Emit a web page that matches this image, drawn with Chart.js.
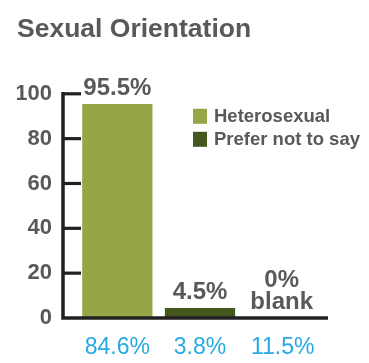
<!DOCTYPE html>
<html>
<head>
<meta charset="utf-8">
<script src="https://cdn.jsdelivr.net/npm/chart.js@4.4.1/dist/chart.umd.min.js"></script>
<style>
  html, body { margin: 0; padding: 0; background: #fff; }
  #wrap { width: 369px; height: 363px; position: relative; }
</style>
</head>
<body>
<div id="wrap"><canvas id="orientationChart"></canvas></div>
<script>
// =========================================
// SEXUAL ORIENTATION BAR CHART
// =========================================
const categories = ['Heterosexual', 'Prefer not to say', 'Blank'];
const shares = [95.5, 4.5, 0];
const valueLabels = [['95.5%'], ['4.5%'], ['0%', 'blank']];
const priorShares = ['84.6%', '3.8%', '11.5%'];
const legendItems = ['Heterosexual', 'Prefer not to say'];
const yTicks = [0, 20, 40, 60, 80, 100];

const barColors = ['#96a546', '#44571f', '#96a546'];
const textGray = '#58595b';
const axisColor = '#231f20';
const FONT = '"Liberation Sans", Arial, Helvetica, sans-serif';

// axis lines drawn offset from the plot, with inward tick marks
const axisPlugin = {
    id: 'axisLines',
    afterDatasetsDraw(chart) {
        const { ctx, chartArea, scales } = chart;
        const y = scales.y;
        const axisX = chartArea.left - 13;
        const y0 = y.getPixelForValue(0);
        const yTop = y.getPixelForValue(100);
        ctx.save();
        ctx.strokeStyle = axisColor;
        ctx.lineWidth = 3.5;
        ctx.lineCap = 'butt';
        ctx.beginPath();
        ctx.moveTo(axisX, yTop - 1.7);
        ctx.lineTo(axisX, y0);
        ctx.lineTo(chartArea.right + 4, y0);
        ctx.stroke();
        ctx.lineWidth = 3.2;
        yTicks.filter(v => v > 0).forEach(v => {
            const py = y.getPixelForValue(v);
            ctx.beginPath();
            ctx.moveTo(axisX, py);
            ctx.lineTo(axisX + 18, py);
            ctx.stroke();
        });
        ctx.restore();
    }
};

// value labels above each bar
const valueLabelPlugin = {
    id: 'valueLabels',
    afterDatasetsDraw(chart) {
        const { ctx } = chart;
        const meta = chart.getDatasetMeta(0);
        ctx.save();
        ctx.font = 'bold 24px ' + FONT;
        ctx.fillStyle = textGray;
        ctx.textAlign = 'center';
        ctx.textBaseline = 'alphabetic';
        meta.data.forEach((bar, i) => {
            const lines = valueLabels[i];
            const x = i === 2 ? bar.x - 1 : bar.x;
            lines.forEach((line, j) => {
                const offset = (lines.length - 1 - j) * 22;
                ctx.fillText(line, x, bar.y - 9 - offset);
            });
        });
        ctx.restore();
    }
};

// legend boxes sitting inside the plot area
const legendPlugin = {
    id: 'insideLegend',
    afterDraw(chart) {
        const { ctx, chartArea } = chart;
        const x = chartArea.left + 117;
        const top = chartArea.top + 15;
        ctx.save();
        ctx.font = 'bold 18.5px ' + FONT;
        ctx.textBaseline = 'middle';
        ctx.textAlign = 'left';
        legendItems.forEach((name, i) => {
            const rowY = top + i * 23;
            ctx.fillStyle = barColors[i];
            ctx.fillRect(x, rowY, 14, 15);
            ctx.fillStyle = textGray;
            ctx.fillText(name, x + 21, rowY + 8.5);
        });
        ctx.restore();
    }
};

new Chart(document.getElementById('orientationChart'), {
    type: 'bar',
    data: {
        labels: priorShares,
        datasets: [{
            label: 'Sexual Orientation',
            data: shares,
            backgroundColor: barColors,
            borderWidth: 0,
            categoryPercentage: 1,
            barPercentage: 0.85
        }]
    },
    options: {
        responsive: true,
        maintainAspectRatio: false,
        animation: false,
        layout: { padding: { left: 17, right: 45, top: 0, bottom: 0 } },
        plugins: {
            legend: { display: false },
            tooltip: { enabled: false },
            title: {
                display: true,
                text: 'Sexual Orientation',
                align: 'start',
                color: textGray,
                font: { family: FONT, size: 26.5, weight: 'bold' },
                padding: { top: 14, bottom: 48 }
            }
        },
        scales: {
            x: {
                grid: { display: false, drawTicks: false },
                border: { display: false },
                ticks: {
                    color: '#27aae1',
                    font: { family: FONT, size: 23 },
                    padding: 16,
                    maxRotation: 0,
                    autoSkip: false
                },
                afterFit: s => { s.height = 45; }
            },
            y: {
                min: 0,
                max: 100,
                grid: { display: false, drawTicks: false },
                border: { display: false },
                afterBuildTicks: s => { s.ticks = yTicks.map(v => ({ value: v })); },
                ticks: {
                    color: textGray,
                    font: { family: FONT, size: 22, weight: 'bold' },
                    padding: 24
                },
                afterFit: s => { s.width = 59; }
            }
        }
    },
    plugins: [axisPlugin, valueLabelPlugin, legendPlugin]
});
</script>
</body>
</html>
